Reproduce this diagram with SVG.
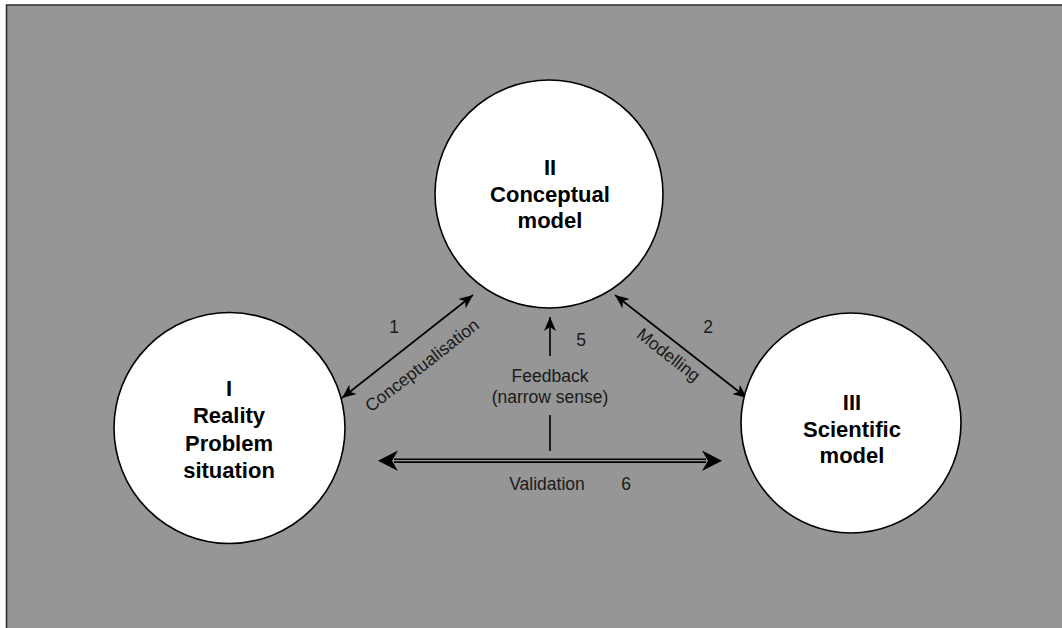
<svg xmlns="http://www.w3.org/2000/svg" width="1062" height="628" viewBox="0 0 1062 628">
<style>
.node circle{fill:#fff;stroke:#000;stroke-width:1.6}
.title{font-family:"Liberation Sans",Arial,sans-serif;font-weight:bold;font-size:22px;text-anchor:middle;fill:#000}
.lbl{font-family:"Liberation Sans",Arial,sans-serif;font-size:17.5px;fill:#1a1a1a}
.mid{text-anchor:middle}
.conn line{stroke:#000;stroke-width:1.6}
</style>
<defs>
<marker id="ah" viewBox="-14 -6.5 15 13" refX="0" refY="0" markerWidth="15" markerHeight="13" markerUnits="userSpaceOnUse" orient="auto-start-reverse">
<path d="M0,0 L-14,-6 L-10,0 L-14,6 Z" fill="#000"/>
</marker>
</defs>
<rect x="6.5" y="5" width="1100" height="700" fill="#969696" stroke="#2a2a2a" stroke-width="1.5"/>
<g id="connectors" class="conn">
<line x1="342" y1="398" x2="473" y2="295" marker-start="url(#ah)" marker-end="url(#ah)"/>
<line x1="615" y1="295" x2="747" y2="398" marker-start="url(#ah)" marker-end="url(#ah)"/>
<line x1="550" y1="356" x2="550" y2="317" marker-end="url(#ah)"/>
<line x1="550" y1="415" x2="550" y2="451"/>
<line x1="394" y1="460.7" x2="706" y2="460.7" style="stroke-width:4.6"/>
<line x1="392" y1="460.7" x2="708" y2="460.7" style="stroke:#969696;stroke-width:1.2"/>
<path d="M378,460.7 L398,450.5 L392,460.7 L398,470.9 Z" fill="#000"/>
<path d="M722,460.7 L702,450.5 L708,460.7 L702,470.9 Z" fill="#000"/>
</g>
<g id="labels">
<text class="lbl mid" x="394" y="333">1</text>
<text class="lbl mid" x="708" y="333">2</text>
<text class="lbl mid" x="581" y="346">5</text>
<text class="lbl mid" x="626" y="490">6</text>
<text class="lbl mid" transform="translate(425.7,370) rotate(-38)">Conceptualisation</text>
<text class="lbl mid" transform="translate(665,359.5) rotate(38)">Modelling</text>
<text class="lbl mid" x="550" y="382">Feedback</text>
<text class="lbl mid" x="550" y="403">(narrow sense)</text>
<text class="lbl mid" x="547" y="490">Validation</text>
</g>
<g id="node-II" class="node">
<circle cx="549" cy="194" r="114"/>
<text class="title" x="550" y="175">II</text>
<text class="title" x="550" y="202">Conceptual</text>
<text class="title" x="550" y="228">model</text>
</g>
<g id="node-I" class="node">
<circle cx="229.5" cy="428" r="115.5"/>
<text class="title" x="229" y="396">I</text>
<text class="title" x="229" y="423">Reality</text>
<text class="title" x="229" y="451">Problem</text>
<text class="title" x="229" y="478">situation</text>
</g>
<g id="node-III" class="node">
<circle cx="851" cy="423" r="110"/>
<text class="title" x="852" y="410">III</text>
<text class="title" x="852" y="437">Scientific</text>
<text class="title" x="852" y="463">model</text>
</g>
</svg>
